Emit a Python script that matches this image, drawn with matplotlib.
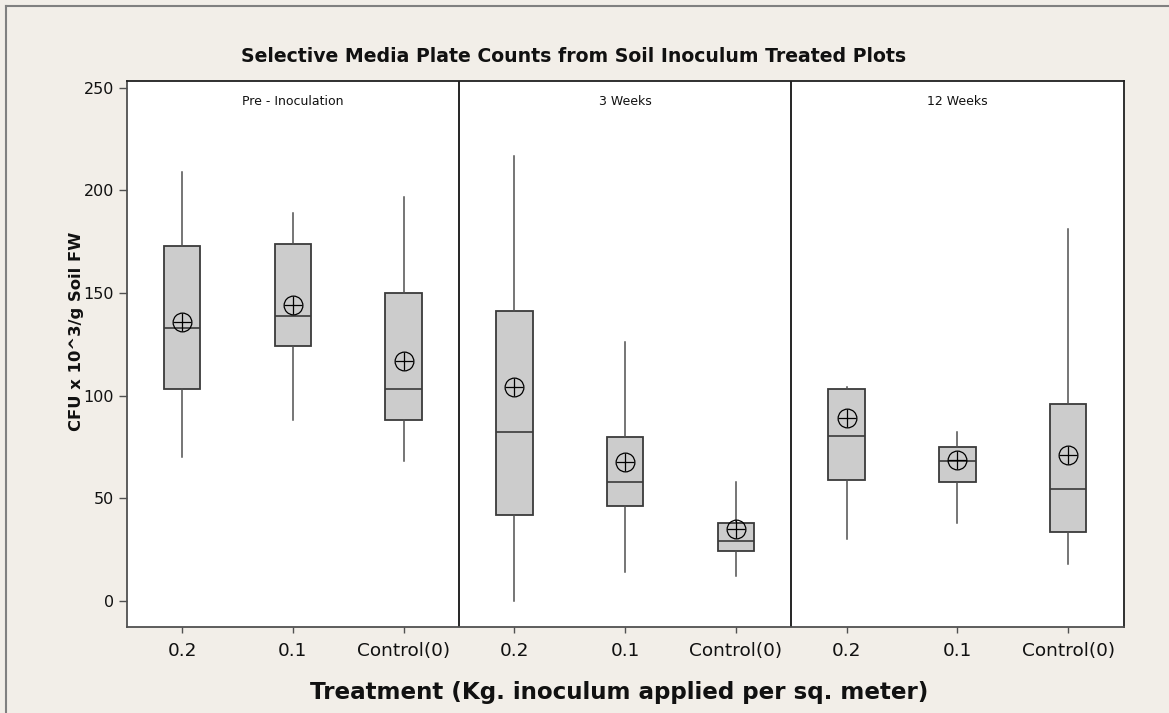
import matplotlib
matplotlib.use("Agg")
import matplotlib.pyplot as plt
from matplotlib.lines import Line2D

# ---- data ----
periods = ["Pre - Inoculation", "3 Weeks", "12 Weeks"]
treatments = ["0.2", "0.1", "Control(0)"]

whisker_low = [70, 88, 68, 0, 14, 12, 30, 38, 18]
q1_vals = [103, 124, 88, 42, 46, 24, 59, 58, 33.5]
medians = [133, 139, 103, 82, 58, 29, 80.5, 68, 54.5]
q3_vals = [173, 174, 150, 141, 80, 38, 103, 75, 96]
whisker_high = [209, 189, 197, 217, 126, 58, 104, 82, 181]
means = [136, 144, 117, 104, 67.5, 35, 89, 68.5, 71]

y_ticks = [0, 50, 100, 150, 200, 250]

title = "Selective Media Plate Counts from Soil Inoculum Treated Plots"
x_label = "Treatment (Kg. inoculum applied per sq. meter)"
y_label = "CFU x 10^3/g Soil FW"

# ---- figure ----
W, H = 1169, 713
fig = plt.figure(figsize=(W / 100, H / 100), dpi=100, facecolor="#F2EEE8")
ax = fig.add_axes([126.7 / W, 1 - 626.7 / H, (1123.5 - 126.7) / W, (626.7 - 80.5) / H])
ax.set_facecolor("white")

positions = list(range(len(medians)))
stats = []
for i in positions:
    stats.append(dict(whislo=whisker_low[i], q1=q1_vals[i], med=medians[i],
                      q3=q3_vals[i], whishi=whisker_high[i], fliers=[]))

ax.bxp(stats, positions=positions, widths=0.33, patch_artist=True,
       showcaps=False, showfliers=False,
       boxprops=dict(facecolor="#CCCCCC", edgecolor="#3a3a3a", linewidth=1.3),
       medianprops=dict(color="#3a3a3a", linewidth=1.2),
       whiskerprops=dict(color="#505050", linewidth=1.1))

ax.plot(positions, means, linestyle="none", marker="o", ms=13.5,
        mfc="none", mec="black", mew=0.9, zorder=5)
ax.plot(positions, means, linestyle="none", marker="+", ms=13.5,
        mec="black", mew=0.9, zorder=5)

ax.set_xlim(-0.5, 8.5)
ax.set_ylim(-12.7, 253.6)

n_per = len(treatments)
for k in range(1, len(periods)):
    ax.axvline(k * n_per - 0.5, color="black", lw=1.2, zorder=1)
for k, p in enumerate(periods):
    ax.text(k * n_per + (n_per - 1) / 2, 243.6, p, ha="center", va="center",
            fontsize=9, color="#111111")

ax.set_xticks(positions)
ax.set_xticklabels(treatments * len(periods))
ax.set_yticks(y_ticks)
ax.tick_params(axis="x", length=4, width=1, color="#505050", labelsize=13.3,
               pad=7, labelcolor="#111111")
ax.tick_params(axis="y", length=6, width=1, color="#505050", labelsize=11.5,
               pad=3, labelcolor="#111111")

for s in ["left", "bottom"]:
    ax.spines[s].set_color("#505050")
    ax.spines[s].set_linewidth(1.3)
for s in ["top", "right"]:
    ax.spines[s].set_color("#202020")
    ax.spines[s].set_linewidth(1.3)

fig.text(574 / W, 1 - 57 / H, title, ha="center", va="center",
         fontsize=13.6, fontweight="bold", color="#111111")
fig.text(619 / W, 1 - 693 / H, x_label, ha="center", va="center",
         fontsize=16.6, fontweight="bold", color="#111111")
fig.text(77 / W, 1 - 331 / H, y_label, ha="center", va="center", rotation=90,
         fontsize=11.8, fontweight="bold", color="#111111")

# outer frame (top and left edges)
fig.add_artist(Line2D([5.7 / W, 5.7 / W], [0, 1 - 5.7 / H], transform=fig.transFigure,
                      color="#808080", lw=1.5))
fig.add_artist(Line2D([5.7 / W, 1], [1 - 5.7 / H, 1 - 5.7 / H], transform=fig.transFigure,
                      color="#808080", lw=1.5))

fig.savefig("out.png", dpi=100, facecolor=fig.get_facecolor())
